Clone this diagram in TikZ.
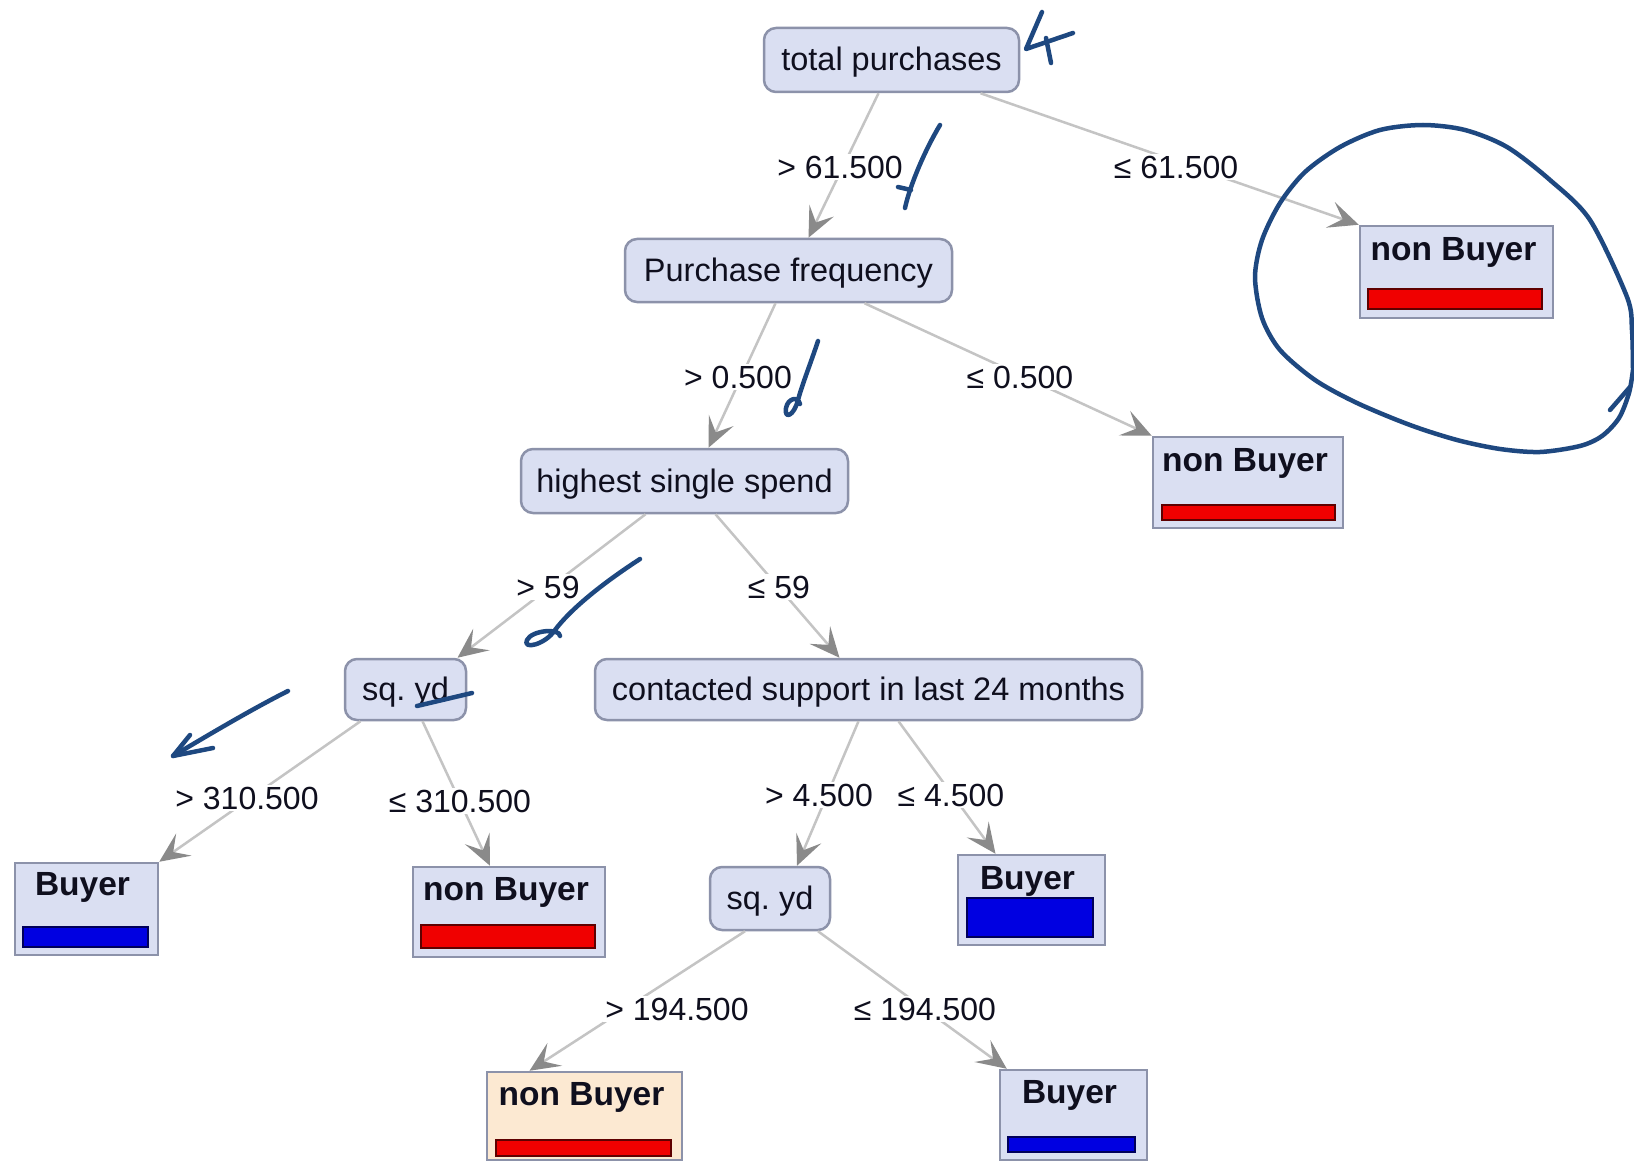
\documentclass[tikz,border=0pt]{standalone}
\usepackage{fontspec}
\setmainfont{Liberation Sans}
\usetikzlibrary{arrows.meta}

\definecolor{nodefill}{RGB}{218,223,242}
\definecolor{nodeline}{RGB}{140,146,170}
\definecolor{leafpeach}{RGB}{252,233,210}
\definecolor{edgegray}{RGB}{196,196,196}
\definecolor{tipgray}{RGB}{138,138,138}
\definecolor{barred}{RGB}{240,0,0}
\definecolor{barredline}{RGB}{95,0,0}
\definecolor{barblue}{RGB}{0,0,225}
\definecolor{barblueline}{RGB}{0,0,90}
\definecolor{ink}{RGB}{30,72,128}
\definecolor{txt}{RGB}{15,15,30}

\begin{document}
\frenchspacing
\begin{tikzpicture}[x=1pt,y=-1pt,
  splitbox/.style={draw=nodeline, fill=nodefill, line width=2.5pt, rounded corners=12pt,
    inner sep=0pt, text height=22pt, text depth=0pt, text=txt,
    font=\fontsize{32.5}{38}\selectfont},
  leafbox/.style={draw=nodeline, fill=nodefill, line width=2.5pt, inner sep=0pt},
  leaftext/.style={anchor=base, inner sep=0pt, text=txt, font=\fontsize{33.5}{40}\selectfont\bfseries},
  redbar/.style={fill=barred, draw=barredline, line width=2pt},
  bluebar/.style={fill=barblue, draw=barblueline, line width=2pt},
  edge/.style={draw=edgegray, line width=2.5pt,
    -{Stealth[length=30pt,width=27pt,inset=13pt,color=tipgray]}},
  lbl/.style={fill=white, inner sep=2pt, text=txt, font=\fontsize{32}{38}\selectfont},
  pen/.style={draw=ink, line width=4.5pt, line cap=round, line join=round}
]
\useasboundingbox (0,0) rectangle (1634,1161);
\fill[white] (0,0) rectangle (1634,1161);

% ---- split nodes
\node[splitbox, minimum width=255pt, minimum height=64pt] (tp)  at (891.5,60)   {total purchases};
\node[splitbox, minimum width=327pt, minimum height=63pt] (pf)  at (788.5,270.5) {Purchase frequency};
\node[splitbox, minimum width=327pt, minimum height=64pt] (hs)  at (684.5,481)  {highest single spend};
\node[splitbox, minimum width=121pt, minimum height=61pt] (sy1) at (405.5,689.5) {sq. yd};
\node[splitbox, minimum width=547pt, minimum height=61pt] (ct)  at (868.5,689.5) {contacted support in last 24 months};
\node[splitbox, minimum width=120pt, minimum height=63pt] (sy2) at (770,898.5)  {sq. yd};

% ---- leaves
\node[leafbox, minimum width=193pt, minimum height=92pt] (l1) at (1456.5,272) {};
\node[leafbox, minimum width=190pt, minimum height=91pt] (l2) at (1248,482.5) {};
\node[leafbox, minimum width=143pt, minimum height=92pt] (l3) at (86.5,909) {};
\node[leafbox, minimum width=192pt, minimum height=90pt] (l4) at (509,912) {};
\node[leafbox, minimum width=147pt, minimum height=90pt] (l5) at (1031.5,900) {};
\node[leafbox, fill=leafpeach, minimum width=195pt, minimum height=88pt] (l6) at (584.5,1116) {};
\node[leafbox, minimum width=147pt, minimum height=90pt] (l7) at (1073.5,1115) {};

\node[leaftext] (l1t) at ([xshift=-3pt,yshift=-36pt]l1.north) {non Buyer};
\node[leaftext] (l2t) at ([xshift=-3pt,yshift=-36pt]l2.north) {non Buyer};
\node[leaftext] (l3t) at ([xshift=-4pt,yshift=-34pt]l3.north) {Buyer};
\node[leaftext] (l4t) at ([xshift=-3pt,yshift=-35pt]l4.north) {non Buyer};
\node[leaftext] (l5t) at ([xshift=-4pt,yshift=-36pt]l5.north) {Buyer};
\node[leaftext] (l6t) at ([xshift=-3pt,yshift=-35pt]l6.north) {non Buyer};
\node[leaftext] (l7t) at ([xshift=-4pt,yshift=-35pt]l7.north) {Buyer};

% class bars
\draw[redbar]  (1368,289) rectangle (1542,309);
\draw[redbar]  (1162,505) rectangle (1335,520);
\draw[bluebar] (23,927)   rectangle (148,947);
\draw[redbar]  (421,925)  rectangle (595,948);
\draw[bluebar] (967,898)  rectangle (1093,937);
\draw[redbar]  (496,1140) rectangle (671,1156);
\draw[bluebar] (1008,1137) rectangle (1135,1152);

% ---- edges
\draw[edge] ([xshift=-13pt]tp.south)  -- ([xshift=20pt]pf.north);
\draw[edge] ([xshift=89pt]tp.south)   -- (l1.north west);
\draw[edge] ([xshift=-13pt]pf.south)  -- ([xshift=24pt]hs.north);
\draw[edge] ([xshift=76pt]pf.south)   -- (l2.north west);
\draw[edge] ([xshift=-39pt]hs.south)  -- ([xshift=52pt]sy1.north);
\draw[edge] ([xshift=31pt]hs.south)   -- ([xshift=-29pt]ct.north);
\draw[edge] ([xshift=-45pt]sy1.south) -- (l3.north east);
\draw[edge] ([xshift=17pt]sy1.south)  -- ([xshift=-19pt]l4.north);
\draw[edge] ([xshift=-10pt]ct.south)  -- ([xshift=27pt]sy2.north);
\draw[edge] ([xshift=30pt]ct.south)   -- ([xshift=-36pt]l5.north);
\draw[edge] ([xshift=-25pt]sy2.south) -- ([xshift=-55pt]l6.north);
\draw[edge] ([xshift=48pt]sy2.south)  -- ([xshift=8pt]l7.north west);

% ---- edge labels
\node[lbl] (e1)  at (840,167)  {> 61.500};
\node[lbl] (e2)  at (1176,167) {≤ 61.500};
\node[lbl] (e3)  at (738,377)  {> 0.500};
\node[lbl] (e4)  at (1020,377) {≤ 0.500};
\node[lbl] (e5)  at (548,587)  {> 59};
\node[lbl] (e6)  at (779,587)  {≤ 59};
\node[lbl] (e7)  at (247,798)  {> 310.500};
\node[lbl] (e8)  at (460,801)  {≤ 310.500};
\node[lbl] (e9)  at (819,795)  {> 4.500};
\node[lbl] (e10) at (951,795)  {≤ 4.500};
\node[lbl] (e11) at (677,1009) {> 194.500};
\node[lbl] (e12) at (925,1009) {≤ 194.500};

% ---- pen marks
\draw[pen] (1042,12) -- (1026,49) -- (1073,33);
\draw[pen] (1046,38) -- (1051,63);
\draw[pen] (940,125) .. controls (925,150) and (910,185) .. (905,208);
\draw[pen] (898,187) -- (911,190);
\draw[pen] (818,341) .. controls (810,365) and (802,385) .. (798,400)
           .. controls (794,416) and (784,420) .. (786,408)
           .. controls (788,398) and (798,396) .. (800,404);
\draw[pen] (640,559) .. controls (600,585) and (570,610) .. (555,630)
           .. controls (545,645) and (522,650) .. (527,640)
           .. controls (532,630) and (560,628) .. (560,636);
\draw[pen] (417,706) -- (472,693);
\draw[pen] (288,691) .. controls (250,710) and (200,740) .. (173,756);
\draw[pen] (190,735) -- (173,756) -- (213,748);
\draw[pen] plot[smooth] coordinates {(1633,370) (1632,330) (1627,297) (1590,220) (1550,180)
  (1507,147) (1465,130) (1423,125) (1380,130) (1340,147) (1305,172) (1280,203) (1262,240)
  (1255,277) (1262,318) (1280,350) (1315,380) (1357,403) (1410,425) (1457,440) (1500,449)
  (1540,452) (1580,446) (1602,436) (1619,418) (1629,393) (1633,370)};
\draw[pen] (1610,410) -- (1630,387);
\end{tikzpicture}
\end{document}
